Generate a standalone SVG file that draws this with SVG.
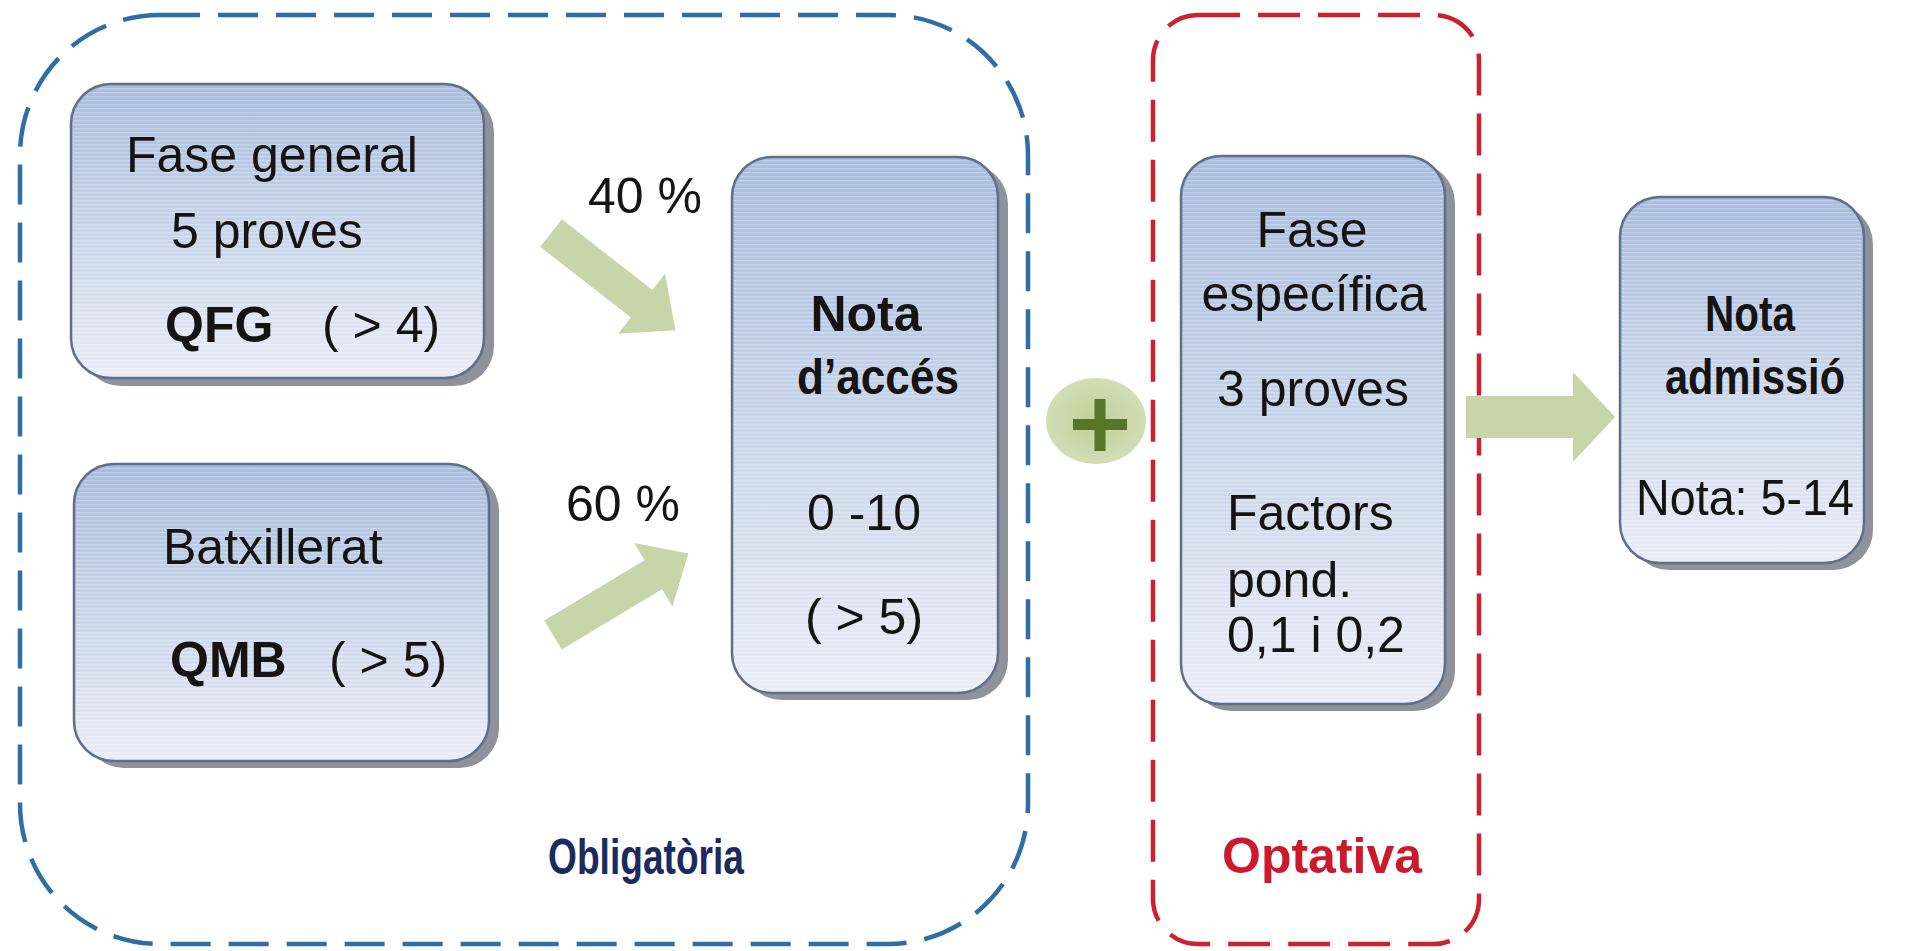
<svg xmlns="http://www.w3.org/2000/svg" width="1921" height="951" viewBox="0 0 1921 951">
<defs>
  <linearGradient id="boxGrad" x1="0" y1="0" x2="0" y2="1">
    <stop offset="0" stop-color="#a9bcdc"/>
    <stop offset="1" stop-color="#e9edf6"/>
  </linearGradient>
  <pattern id="stripes" width="8" height="4" patternUnits="userSpaceOnUse">
    <rect width="8" height="1.3" fill="#ffffff" fill-opacity="0.25"/>
  </pattern>
  <radialGradient id="plusGrad" cx="0.5" cy="0.5" r="0.5">
    <stop offset="0" stop-color="#bfd098"/>
    <stop offset="1" stop-color="#d2ddb5"/>
  </radialGradient>
</defs>
<style>
  .shadow{fill:#8d929b}
  .box{fill:url(#boxGrad);stroke:#5f6f88;stroke-width:2.5}
  .stripes{fill:url(#stripes)}
  text{font-family:"Liberation Sans",Arial,sans-serif;font-size:50px;fill:#141414}
  .b{font-weight:bold}
  .c{text-anchor:middle}
  .arrow{fill:#c7d5a9}
  .blue{fill:none;stroke:#2f6ea5;stroke-width:4.5;stroke-dasharray:40 18}
  .red{fill:none;stroke:#cc2230;stroke-width:4.5;stroke-dasharray:42 18}
  .lblBlue{fill:#1b2b5e}
  .lblRed{fill:#cc1a2c}
</style>
<rect width="1921" height="951" fill="#ffffff"/>

<g id="region-obligatoria">
  <rect class="blue" x="20" y="15" width="1008" height="929" rx="140"/>
  <text class="b lblBlue" x="548" y="874" font-size="52" textLength="196" lengthAdjust="spacingAndGlyphs">Obligatòria</text>
</g>
<g id="region-optativa">
  <rect class="red" x="1153" y="15" width="326" height="929" rx="45"/>
  <text class="b lblRed" x="1222" y="873">Optativa</text>
</g>

<g id="connectors">
  <path class="arrow" transform="translate(551,233) rotate(38)" d="M0,-17.5 L115,-17.5 L115,-38 L158,0 L115,38 L115,17.5 L0,17.5 Z"/>
  <path class="arrow" transform="translate(553,635) rotate(-31)" d="M0,-17 L117,-17 L117,-37 L158,0 L117,37 L117,17 L0,17 Z"/>
  <path class="arrow" d="M1466,396 L1573,396 L1573,372 L1615,417 L1573,462 L1573,438 L1466,438 Z"/>
  <text x="588" y="213">40 %</text>
  <text x="566" y="521">60 %</text>
</g>

<g id="node-fase-general">
  <rect class="shadow" x="81" y="92" width="413" height="294" rx="40"/>
  <rect class="box" x="71" y="84" width="413" height="294" rx="40"/>
  <rect class="stripes" x="73" y="86" width="409" height="290" rx="38"/>
  <text x="126" y="172">Fase general</text>
  <text x="171" y="248">5 proves</text>
  <text class="b" x="165" y="342">QFG</text>
  <text x="322" y="342">( &gt; 4)</text>
</g>

<g id="node-batxillerat">
  <rect class="shadow" x="84" y="471" width="415" height="297" rx="40"/>
  <rect class="box" x="74" y="464" width="415" height="297" rx="40"/>
  <rect class="stripes" x="76" y="466" width="411" height="293" rx="38"/>
  <text x="163" y="564">Batxillerat</text>
  <text class="b" x="170" y="677">QMB</text>
  <text x="329" y="677">( &gt; 5)</text>
</g>

<g id="node-nota-acces">
  <rect class="shadow" x="742" y="164" width="266" height="536" rx="40"/>
  <rect class="box" x="732" y="157" width="266" height="536" rx="40"/>
  <rect class="stripes" x="734" y="159" width="262" height="532" rx="38"/>
  <text class="b c" x="866" y="331">Nota</text>
  <text class="b c" x="878" y="394" textLength="162" lengthAdjust="spacingAndGlyphs">d’accés</text>
  <text class="c" x="864" y="530">0 -10</text>
  <text class="c" x="864" y="634">( &gt; 5)</text>
</g>

<g id="node-plus">
  <ellipse cx="1096" cy="421" rx="50" ry="43" fill="url(#plusGrad)"/>
  <rect x="1073" y="419" width="54" height="11" fill="#577429"/>
  <rect x="1094.5" y="399" width="11" height="52" fill="#577429"/>
</g>

<g id="node-fase-especifica">
  <rect class="shadow" x="1191" y="163" width="264" height="548" rx="40"/>
  <rect class="box" x="1181" y="156" width="264" height="548" rx="40"/>
  <rect class="stripes" x="1183" y="158" width="260" height="544" rx="38"/>
  <text class="c" x="1312" y="247">Fase</text>
  <text class="c" x="1314" y="311">específica</text>
  <text class="c" x="1313" y="406">3 proves</text>
  <text x="1227" y="530">Factors</text>
  <text x="1227" y="597">pond.</text>
  <text x="1227" y="652">0,1 i 0,2</text>
</g>

<g id="node-nota-admissio">
  <rect class="shadow" x="1629" y="204" width="244" height="366" rx="40"/>
  <rect class="box" x="1620" y="197" width="244" height="366" rx="40"/>
  <rect class="stripes" x="1622" y="199" width="240" height="362" rx="38"/>
  <text class="b c" x="1750" y="331" textLength="90" lengthAdjust="spacingAndGlyphs">Nota</text>
  <text class="b c" x="1755" y="394" textLength="180" lengthAdjust="spacingAndGlyphs">admissió</text>
  <text class="c" x="1745" y="515" textLength="218" lengthAdjust="spacingAndGlyphs">Nota: 5-14</text>
</g>
</svg>
